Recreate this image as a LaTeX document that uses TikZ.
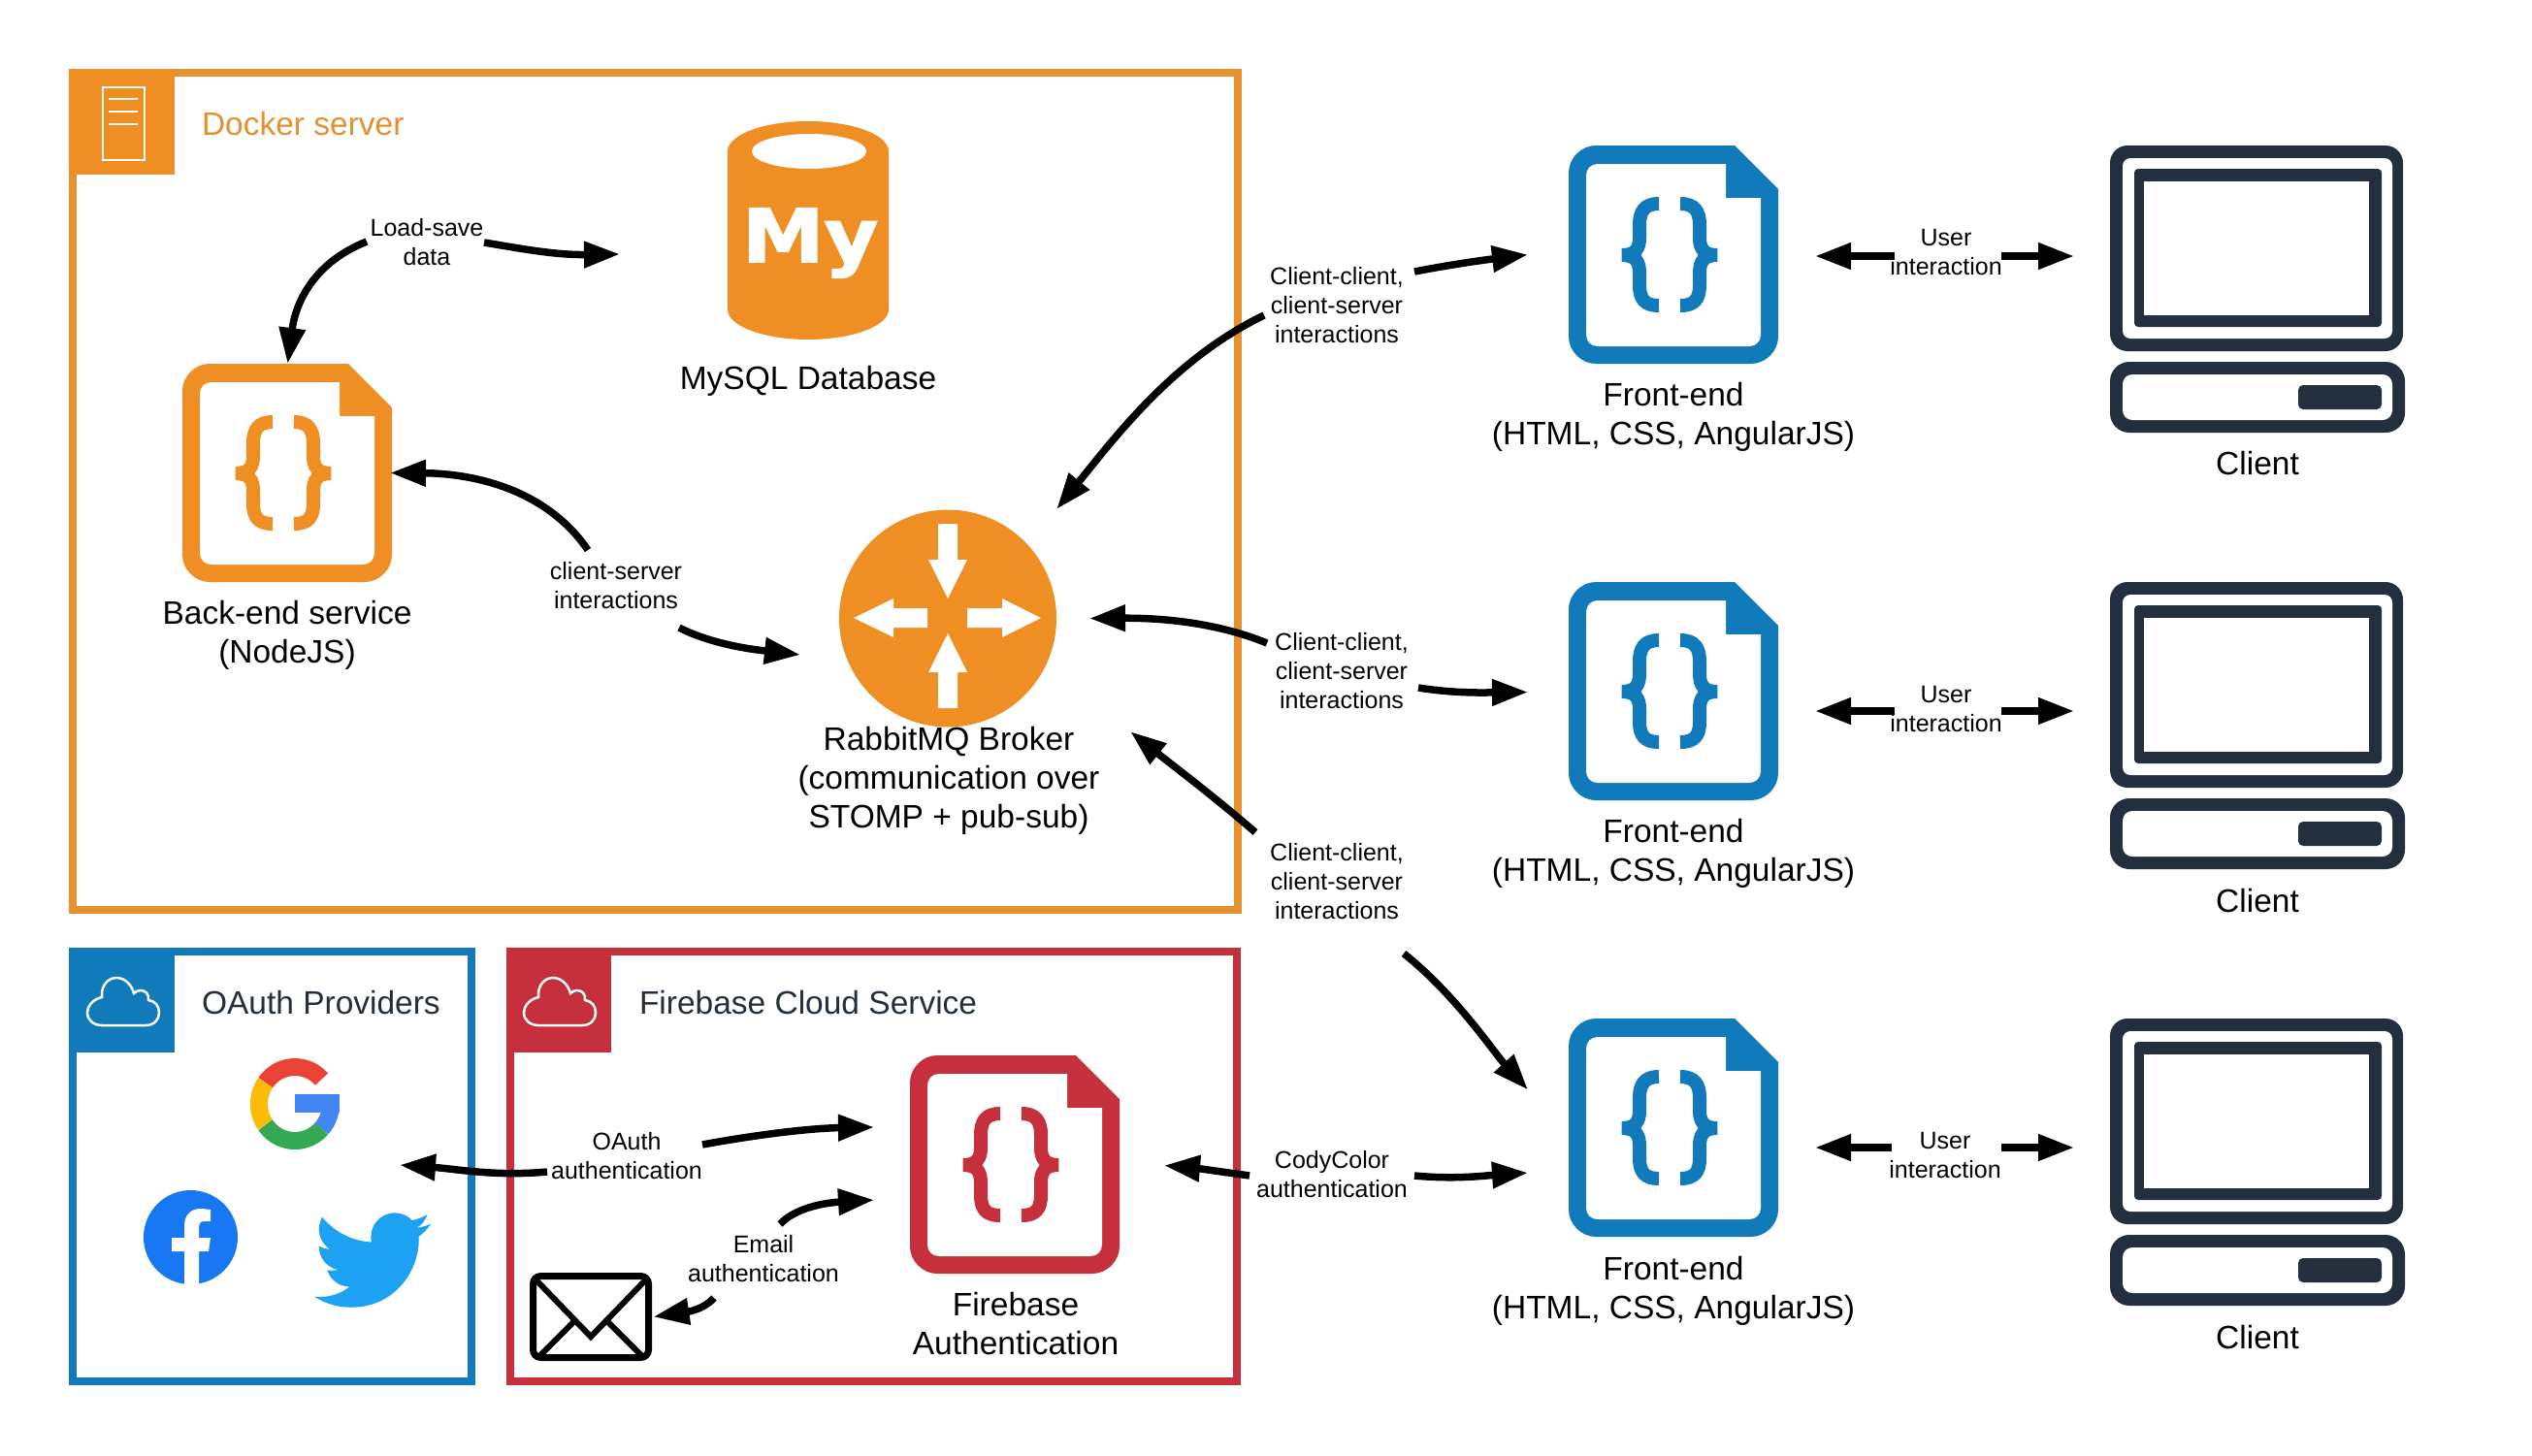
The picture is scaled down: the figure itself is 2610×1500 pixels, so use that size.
\documentclass[tikz,border=0pt]{standalone}
\usepackage{fontspec}
\setmainfont{Liberation Sans}
\newfontfamily\logofont[BoldFeatures={FakeBold=2}]{DejaVu Sans}
\usetikzlibrary{arrows.meta,calc,shapes.geometric}
\definecolor{cOrange}{HTML}{EF8E23}
\definecolor{cOrangeB}{HTML}{E6912F}
\definecolor{cBlue}{HTML}{107ABA}
\definecolor{cRed}{HTML}{C62F3C}
\definecolor{cDark}{HTML}{232F3E}
\definecolor{gRed}{HTML}{EA4335}
\definecolor{gYellow}{HTML}{FBBC05}
\definecolor{gGreen}{HTML}{34A853}
\definecolor{gBlue}{HTML}{4285F4}
\definecolor{fbBlue}{HTML}{1877F2}
\definecolor{twBlue}{HTML}{1DA1F2}
\tikzset{
  bigtext/.style={inner sep=0pt,outer sep=0pt,align=center,font=\fontsize{33.5}{40}\selectfont},
  smalltext/.style={inner sep=0pt,outer sep=0pt,align=center,font=\fontsize{25}{30}\selectfont},
  titletext/.style={inner sep=0pt,outer sep=0pt,anchor=west,font=\fontsize{33.5}{40}\selectfont},
  framebox/.style={inner sep=0pt,outer sep=0pt,line width=8pt,rectangle},
  iconbox/.style={inner sep=0pt,outer sep=0pt,rectangle},
  conn/.style={line width=7.5pt,black,-{Triangle[length=37pt,width=26pt]}}
}
\newcommand{\docicon}[3]{%
  \begin{scope}[shift={(#1,#2)}]
    \fill[#3] (171,0) -- (216,45) -- (216,197) .. controls (216,212) and (203,225) .. (188,225)
      -- (28,225) .. controls (13,225) and (0,212) .. (0,197) -- (0,28)
      .. controls (0,13) and (13,0) .. (28,0) -- cycle;
    \fill[white] (30,19) -- (162,19) -- (162,54) -- (198,54) -- (198,195)
      .. controls (198,202) and (193,207) .. (186,207) -- (30,207)
      .. controls (23,207) and (18,202) .. (18,195) -- (18,31)
      .. controls (18,24) and (23,19) .. (30,19) -- cycle;
    \draw[#3,line width=14pt] (93,60) .. controls (78,60) and (73,68) .. (73,82) -- (73,95)
      .. controls (73,106) and (69,113) .. (55,113) .. controls (69,113) and (73,120) .. (73,131)
      -- (73,144) .. controls (73,158) and (78,165) .. (93,165);
    \draw[#3,line width=14pt] (115,60) .. controls (130,60) and (135,68) .. (135,82) -- (135,95)
      .. controls (135,106) and (139,113) .. (153,113) .. controls (139,113) and (135,120) .. (135,131)
      -- (135,144) .. controls (135,158) and (130,165) .. (115,165);
  \end{scope}}
\newcommand{\clienticon}[2]{%
  \begin{scope}[shift={(#1,#2)}]
    \fill[cDark,rounded corners=18pt] (0,0) rectangle (302,212);
    \fill[white,rounded corners=8pt] (13,13) rectangle (291,199);
    \fill[cDark,rounded corners=4pt] (25,24) rectangle (280,187);
    \fill[white] (35,37) rectangle (267,175);
    \fill[cDark,rounded corners=20pt] (0,223) rectangle (304,296);
    \fill[white,rounded corners=10pt] (13,236) rectangle (291,283);
    \fill[cDark,rounded corners=5pt] (194,247) rectangle (280,272);
  \end{scope}}
\newcommand{\cloudicon}[2]{%
  \begin{scope}[shift={(#1,#2)}]
    \draw[white,line width=2.5pt] (15,49) -- (60,49) .. controls (69,49) and (74,43) .. (74,36)
      .. controls (74,29) and (70,24) .. (63,23) .. controls (64,17) and (60,13) .. (55,13)
      .. controls (52,13) and (50,14) .. (48,16) .. controls (45,5) and (37,0) .. (30,0)
      .. controls (22,0) and (15,7) .. (15,17) .. controls (15,18) and (15,19) .. (15,20)
      .. controls (6,22) and (0,29) .. (0,36) .. controls (0,44) and (7,49) .. (15,49) -- cycle;
  \end{scope}}
\begin{document}
\begin{tikzpicture}[x=1pt,y=-1pt]
\useasboundingbox (0,0) rectangle (2610,1500);
\fill[white] (0,0) rectangle (2610,1500);

% frames
\node[framebox,draw=cOrangeB,minimum width=1201pt,minimum height=863pt] (docker) at (675.5,506.5) {};
\node[framebox,draw=cBlue,minimum width=411pt,minimum height=443pt] (oauthbox) at (280.5,1202.5) {};
\node[framebox,draw=cRed,minimum width=749pt,minimum height=443pt] (firebox) at (900.5,1202.5) {};
\fill[cOrange] (71,71) rectangle (180,180);
\fill[cBlue] (71,977) rectangle (180,1085);
\fill[cRed] (522,977) rectangle (630,1085);

% server glyph
\draw[white,line width=2.5pt] (106,90) rectangle (149,165);
\draw[white,line width=2.5pt] (112,102) -- (142,102) (112,115) -- (142,115) (112,128) -- (142,128);
\cloudicon{90}{1008}
\cloudicon{540}{1008}

% titles
\node[titletext,text=cOrangeB] (tdocker) at (208,128) {Docker server};
\node[titletext,text=cDark] (toauth) at (208,1034) {OAuth Providers};
\node[titletext,text=cDark] (tfire) at (659,1034) {Firebase Cloud Service};

% MySQL
\fill[cOrange] (750,156) .. controls (750,139) and (787,125) .. (833,125)
  .. controls (879,125) and (916,139) .. (916,156) -- (916,319)
  .. controls (916,336) and (879,350) .. (833,350) .. controls (787,350) and (750,336) .. (750,319) -- cycle;
\fill[white] (834,156) ellipse [x radius=59pt,y radius=18pt];
\node[iconbox,minimum width=166pt,minimum height=225pt] (mysql) at (833,237.5) {};
\node[inner sep=0pt,anchor=base,text=white,xscale=1.12,transform shape,font=\logofont\bfseries\fontsize{76}{76}\selectfont] (mylogo) at (835,270) {My};

% Broker
\node[circle,fill=cOrange,inner sep=0pt,outer sep=0pt,minimum size=224pt] (broker) at (977,637.5) {};
\fill[white] (967,540) -- (987,540) -- (987,577) -- (997,577) -- (977,617) -- (957,577) -- (967,577) -- cycle;
\fill[white] (967,730) -- (987,730) -- (987,693) -- (997,693) -- (977,653) -- (957,693) -- (967,693) -- cycle;
\fill[white] (956,627) -- (921,627) -- (921,617) -- (880,637) -- (921,657) -- (921,647) -- (956,647) -- cycle;
\fill[white] (997,627) -- (1033,627) -- (1033,617) -- (1073,637) -- (1033,657) -- (1033,647) -- (997,647) -- cycle;

% documents
\docicon{188}{375}{cOrange}
\node[iconbox,minimum width=217pt,minimum height=225pt] (backend) at (296.5,487.5) {};
\docicon{1617}{150}{cBlue}
\node[iconbox,minimum width=215pt,minimum height=225pt] (fe1) at (1724.5,262.5) {};
\docicon{1617}{600}{cBlue}
\node[iconbox,minimum width=215pt,minimum height=225pt] (fe2) at (1724.5,712.5) {};
\docicon{1617}{1050}{cBlue}
\node[iconbox,minimum width=215pt,minimum height=225pt] (fe3) at (1724.5,1162.5) {};
\docicon{938}{1088}{cRed}
\node[iconbox,minimum width=217pt,minimum height=227pt] (fbauth) at (1047.5,1201.5) {};

% clients
\clienticon{2175}{150}
\node[iconbox,minimum width=304pt,minimum height=296pt] (cl1) at (2327,298) {};
\clienticon{2175}{600}
\node[iconbox,minimum width=304pt,minimum height=296pt] (cl2) at (2327,748) {};
\clienticon{2175}{1050}
\node[iconbox,minimum width=304pt,minimum height=296pt] (cl3) at (2327,1198) {};

% envelope
\node[rectangle,draw=black,line width=7pt,rounded corners=8pt,fill=white,inner sep=0pt,outer sep=0pt,minimum width=119pt,minimum height=84pt] (mail) at (609,1357.5) {};
\draw[black,line width=6pt] (553,1320) -- (609,1378) -- (665,1320);
\draw[black,line width=6pt] (556,1398) -- (594,1360);
\draw[black,line width=6pt] (662,1398) -- (624,1360);

% Google
\node[iconbox,minimum width=92pt,minimum height=94pt] (google) at (304,1138) {};
\draw[gRed,line width=18pt,domain=42:145,samples=30] plot ({304+37*cos(\x)},{1138-38*sin(\x)});
\draw[gYellow,line width=18pt,domain=145:215,samples=20] plot ({304+37*cos(\x)},{1138-38*sin(\x)});
\draw[gGreen,line width=18pt,domain=215:318,samples=30] plot ({304+37*cos(\x)},{1138-38*sin(\x)});
\draw[gBlue,line width=18pt,domain=318:360,samples=15] plot ({304+37*cos(\x)},{1138-38*sin(\x)});
\fill[gBlue] (304,1128) rectangle (350,1147);

% Facebook
\node[circle,fill=fbBlue,inner sep=0pt,outer sep=0pt,minimum size=97pt] (facebook) at (196.5,1275.5) {};
\fill[white] (190,1324) -- (190,1290) -- (177,1290) -- (177,1276) -- (190,1276) -- (190,1264)
  .. controls (190,1252) and (197,1246) .. (207,1246) .. controls (211,1246) and (215,1247) .. (217,1247)
  -- (217,1259) -- (211,1259) .. controls (206,1259) and (205,1262) .. (205,1265) -- (205,1276)
  -- (217,1276) -- (215,1290) -- (205,1290) -- (205,1324) -- cycle;

% Twitter
\node[iconbox,minimum width=120pt,minimum height=98pt] (twitter) at (384,1299) {};
\begin{scope}[shift={(324,1239)},scale=5]
\fill[twBlue] (23.95,4.57) .. controls (23.1,4.95) and (22.15,5.2) .. (21.13,5.35)
 .. controls (22.15,4.74) and (22.93,3.77) .. (23.29,2.62)
 .. controls (22.34,3.18) and (21.29,3.58) .. (20.16,3.8)
 .. controls (19.26,2.85) and (18,2.27) .. (16.6,2.27)
 .. controls (13.5,2.27) and (11.1,5.1) .. (11.78,8.29)
 .. controls (7.69,8.1) and (4.07,6.13) .. (1.64,3.16)
 .. controls (1.21,3.9) and (0.97,4.75) .. (0.97,5.64)
 .. controls (0.97,7.35) and (1.84,8.85) .. (3.16,9.73)
 .. controls (2.35,9.7) and (1.6,9.48) .. (0.93,9.11)
 -- (0.93,9.17)
 .. controls (0.93,11.56) and (2.63,13.54) .. (4.88,14)
 .. controls (4.17,14.19) and (3.41,14.22) .. (2.67,14.08)
 .. controls (3.3,16.04) and (5.12,17.47) .. (7.27,17.5)
 .. controls (5.58,18.82) and (3.45,19.6) .. (1.17,19.6)
 .. controls (0.78,19.6) and (0.39,19.58) .. (0,19.54)
 .. controls (2.18,20.93) and (4.77,21.75) .. (7.56,21.75)
 .. controls (16.6,21.75) and (21.55,14.25) .. (21.55,7.77)
 .. controls (21.55,7.56) and (21.55,7.35) .. (21.54,7.14)
 .. controls (22.5,6.45) and (23.33,5.58) .. (24,4.59) -- cycle;
\end{scope}

% icon captions
\node[bigtext] (capmysql) at (833,393) {MySQL Database};
\node[bigtext] (capback) at (296,655) {Back-end service\\(NodeJS)};
\node[bigtext] (capbroker) at (978,805) {RabbitMQ Broker\\(communication over\\STOMP + pub-sub)};
\node[bigtext] (capfe1) at (1725,430) {Front-end\\(HTML, CSS, AngularJS)};
\node[bigtext] (capfe2) at (1725,880) {Front-end\\(HTML, CSS, AngularJS)};
\node[bigtext] (capfe3) at (1725,1331) {Front-end\\(HTML, CSS, AngularJS)};
\node[bigtext] (capcl1) at (2327,478) {Client};
\node[bigtext] (capcl2) at (2327,929) {Client};
\node[bigtext] (capcl3) at (2327,1379) {Client};
\node[bigtext] (capfb) at (1047,1365) {Firebase\\Authentication};

% connector labels
\node[smalltext] (ls) at (440,250) {Load-save\\data};
\node[smalltext] (cs) at (635,604) {client-server\\interactions};
\node[smalltext] (cc1) at (1378,315) {Client-client,\\client-server\\interactions};
\node[smalltext] (cc2) at (1383,692) {Client-client,\\client-server\\interactions};
\node[smalltext] (cc3) at (1378,909) {Client-client,\\client-server\\interactions};
\node[smalltext] (cody) at (1373,1211) {CodyColor\\authentication};
\node[smalltext] (ui1) at (2006,260) {User\\interaction};
\node[smalltext] (ui2) at (2006,731) {User\\interaction};
\node[smalltext] (ui3) at (2005,1191) {User\\interaction};
\node[smalltext] (oa) at (646,1192) {OAuth\\authentication};
\node[smalltext] (em) at (787,1298) {Email\\authentication};

% connectors
\draw[conn] ($(ls.center)+(-62,-1)$) .. controls (325,270) and (305,310) .. (backend.north);
\draw[conn] ($(ls.center)+(59,0)$) .. controls (530,255) and (570,263) .. ($(mysql.west)+(-111,24.5)$);
\draw[conn] ($(cs.center)+(-29,-37)$) .. controls (560,500) and (480,488) .. ($(backend.east)+(-3,0)$);
\draw[conn] ($(cs.center)+(65,43)$) .. controls (735,665) and (780,670) .. ($(broker.west)+(-40,37.5)$);
\draw[conn] ($(cc1.center)+(-75,10)$) .. controls (1210,370) and (1150,450) .. ($(broker.45)+(33,-33.5)$);
\draw[conn] ($(cc1.center)+(80,-35)$) .. controls (1500,272) and (1530,268) .. ($(fe1.west)+(-42,0)$);
\draw[conn] ($(cc2.center)+(-77,-29)$) .. controls (1250,640) and (1190,637) .. ($(broker.east)+(34,0)$);
\draw[conn] ($(cc2.center)+(79,17)$) .. controls (1500,715) and (1530,714) .. ($(fe2.west)+(-42,1)$);
\draw[conn] ($(cc3.center)+(-84,-51)$) .. controls (1250,820) and (1210,790) .. ($(broker.-45)+(109,37.5)$);
\draw[conn] ($(cc3.center)+(69,74)$) .. controls (1500,1025) and (1540,1085) .. ($(fe3.west)+(-42,-39)$);
\draw[conn] ($(cody.center)+(-85,1)$) .. controls (1260,1208) and (1230,1204) .. ($(fbauth.east)+(44,0)$);
\draw[conn] ($(cody.center)+(85,1)$) .. controls (1500,1216) and (1530,1212) .. ($(fe3.west)+(-42,46.5)$);
\draw[conn] ($(ui1.center)+(-53,4)$) -- ($(fe1.east)+(39,1.5)$);
\draw[conn] ($(ui1.center)+(57,4)$) -- ($(cl1.west)+(-37,-34)$);
\draw[conn] ($(ui2.center)+(-53,2)$) -- ($(fe2.east)+(39,20.5)$);
\draw[conn] ($(ui2.center)+(57,2)$) -- ($(cl2.west)+(-37,-15)$);
\draw[conn] ($(ui3.center)+(-55,-8)$) -- ($(fe3.east)+(39,20.5)$);
\draw[conn] ($(ui3.center)+(58,-8)$) -- ($(cl3.west)+(-37,-15)$);
\draw[conn] ($(oa.center)+(-82,16)$) .. controls (510,1213) and (470,1205) .. ($(oauthbox.east)+(-74,-1.5)$);
\draw[conn] ($(oa.center)+(78,-12)$) .. controls (790,1168) and (840,1163) .. ($(fbauth.west)+(-38,-39.5)$);
\draw[conn] ($(em.center)+(17,-36)$) .. controls (820,1245) and (850,1240) .. ($(fbauth.west)+(-38,35.5)$);
\draw[conn] ($(em.center)+(-51,40)$) .. controls (725,1350) and (710,1352) .. ($(mail.east)+(5,0)$);
\end{tikzpicture}
\end{document}
